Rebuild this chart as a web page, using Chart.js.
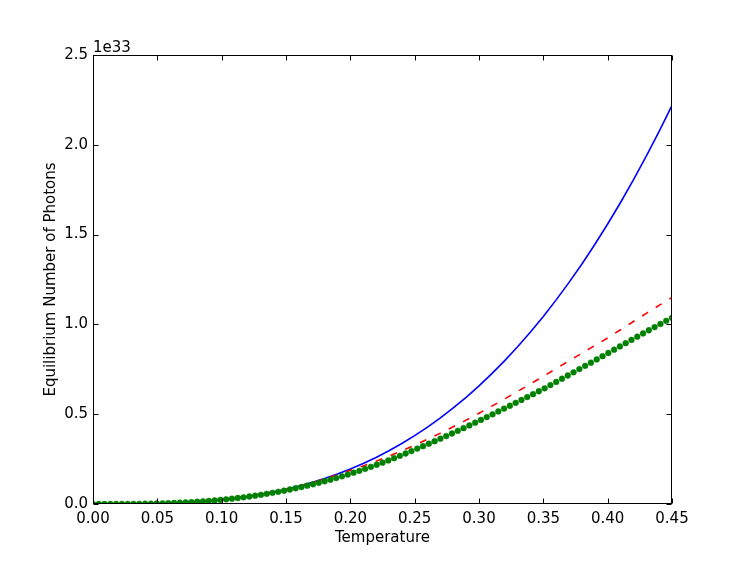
<!DOCTYPE html>
<html><head><meta charset="utf-8">
<script src="https://cdn.jsdelivr.net/npm/chart.js@4"></script>
<style>html,body{margin:0;padding:0;background:#fff;} canvas{display:block}</style>
</head><body>
<canvas id="c" width="747" height="561"></canvas>
<script>
// Temperature grid for the two line series
const lineT = [0,0.01,0.02,0.03,0.04,0.05,0.06,0.07,0.08,0.09,0.10,0.11,0.12,0.13,0.14,0.15,0.16,0.17,0.18,0.19,0.20,0.21,0.22,0.23,0.24,0.25,0.26,0.27,0.28,0.29,0.30,0.31,0.32,0.33,0.34,0.35,0.36,0.37,0.38,0.39,0.40,0.41,0.42,0.43,0.44,0.45];
// values in units of 1e33
const blueY = [0,0.0000244,0.000195,0.000658,0.00156,0.00305,0.00526,0.00836,0.01247,0.01776,0.02436,0.03242,0.04209,0.05352,0.06684,0.08222,0.09978,0.11968,0.14207,0.16709,0.19488,0.2256,0.2594,0.2964,0.3368,0.3806,0.4282,0.4795,0.5348,0.5941,0.6577,0.7257,0.7982,0.8754,0.9575,1.0444,1.1365,1.2339,1.3367,1.4450,1.5590,1.6789,1.8048,1.9368,2.0751,2.2198];
const redY = [0,0.0000244,0.000195,0.000658,0.00156,0.00305,0.00526,0.00836,0.01247,0.01776,0.02436,0.03242,0.04209,0.05352,0.06684,0.08222,0.0994,0.1187,0.1398,0.1624,0.1871,0.2121,0.2386,0.2668,0.2964,0.3273,0.3604,0.3947,0.4304,0.4672,0.5051,0.5447,0.5852,0.6266,0.6687,0.7112,0.7540,0.7969,0.8397,0.8823,0.9245,0.9704,1.0161,1.0614,1.1060,1.1499];
// Temperature grid for the dotted series
const dotT = [0,0.0045,0.009,0.0135,0.018,0.0225,0.027,0.0315,0.036,0.0405,0.045,0.0495,0.054,0.0585,0.063,0.0675,0.072,0.0765,0.081,0.0855,0.09,0.0945,0.099,0.1035,0.108,0.1125,0.117,0.1215,0.126,0.1305,0.135,0.1395,0.144,0.1485,0.153,0.1575,0.162,0.1665,0.171,0.1755,0.18,0.1845,0.189,0.1935,0.198,0.2025,0.207,0.2115,0.216,0.2205,0.225,0.2295,0.234,0.2385,0.243,0.2475,0.252,0.2565,0.261,0.2655,0.27,0.2745,0.279,0.2835,0.288,0.2925,0.297,0.3015,0.306,0.3105,0.315,0.3195,0.324,0.3285,0.333,0.3375,0.342,0.3465,0.351,0.3555,0.36,0.3645,0.369,0.3735,0.378,0.3825,0.387,0.3915,0.396,0.4005,0.405,0.4095,0.414,0.4185,0.423,0.4275,0.432,0.4365,0.441,0.4455,0.45];
const greenY = [0,0.000002,0.000018,0.00006,0.000142,0.000277,0.000478,0.00076,0.001135,0.001615,0.002215,0.00294,0.00381,0.004832,0.006022,0.007389,0.008947,0.010708,0.012682,0.014881,0.017316,0.019999,0.02294,0.026122,0.02957,0.033298,0.037315,0.041631,0.046254,0.051194,0.056459,0.062056,0.067996,0.074285,0.0808,0.08758,0.094703,0.102152,0.109954,0.118088,0.126583,0.135413,0.144612,0.154147,0.164057,0.174265,0.184781,0.195644,0.206853,0.218407,0.230305,0.242546,0.255129,0.268051,0.28131,0.294903,0.308515,0.321969,0.335662,0.349586,0.363734,0.378093,0.392656,0.407413,0.422351,0.437461,0.452731,0.468215,0.483771,0.499449,0.515237,0.53112,0.547085,0.563127,0.579201,0.595322,0.611463,0.62771,0.644153,0.661925,0.679653,0.697556,0.71539,0.733378,0.75126,0.769278,0.787148,0.805133,0.822929,0.840819,0.859124,0.877375,0.895555,0.913659,0.93165,0.9497,0.967438,0.98502,1.002418,1.019654,1.036649];
const xTicks = [0,0.05,0.10,0.15,0.20,0.25,0.30,0.35,0.40,0.45];
const yTicks = [0,0.5,1.0,1.5,2.0,2.5];
const xTitle = 'Temperature';
const yTitle = 'Equilibrium Number of Photons';
const offsetText = '1e33';

const FONT = 'DejaVu Sans';
const pts = (xs, ys) => xs.map((x, i) => ({x, y: ys[i]}));

const framePlugin = {
  id: 'frame',
  afterDatasetsDraw(chart) {
    const {ctx, chartArea: a, scales: {x, y}} = chart;
    ctx.save();
    ctx.strokeStyle = '#000';
    ctx.lineWidth = 1;
    const L = Math.round(a.left) + 0.5, R = Math.round(a.right) - 0.5;
    const T = Math.round(a.top) + 0.5, B = Math.round(a.bottom) - 0.5;
    ctx.beginPath();
    xTicks.forEach(v => {
      const px = Math.round(x.getPixelForValue(v)) + 0.5;
      ctx.moveTo(px, B); ctx.lineTo(px, B - 5);
      ctx.moveTo(px, T); ctx.lineTo(px, T + 5);
    });
    yTicks.forEach(v => {
      const py = Math.round(y.getPixelForValue(v)) + 0.5;
      ctx.moveTo(L, py); ctx.lineTo(L + 5, py);
      ctx.moveTo(R, py); ctx.lineTo(R - 5, py);
    });
    ctx.stroke();
    ctx.strokeRect(L, T, R - L, B - T);
    ctx.fillStyle = '#000';
    ctx.font = '15px "' + FONT + '"';
    ctx.textAlign = 'left';
    ctx.textBaseline = 'alphabetic';
    ctx.fillText(offsetText, a.left, a.top - 3);
    ctx.restore();
  }
};

new Chart(document.getElementById('c'), {
  type: 'scatter',
  data: {
    datasets: [
      {data: pts(lineT, blueY), showLine: true, borderColor: '#0000ff', borderWidth: 1.6, pointRadius: 0, fill: false, clip: 0, order: 3},
      {data: pts(lineT, redY), showLine: true, borderColor: '#ff0000', borderWidth: 1.6, borderDash: [7, 9], pointRadius: 0, fill: false, clip: 0, order: 2},
      {data: pts(dotT, greenY), showLine: false, pointRadius: 2.9, pointBackgroundColor: '#008000', pointBorderColor: '#008000', pointBorderWidth: 0.5, clip: 0, order: 1}
    ]
  },
  options: {
    responsive: false,
    animation: false,
    devicePixelRatio: 1,
    layout: {padding: {left: 0, top: 55, right: 75, bottom: 0}},
    plugins: {legend: {display: false}, tooltip: {enabled: false}},
    scales: {
      x: {
        type: 'linear', min: 0, max: 0.45,
        afterBuildTicks: s => { s.ticks = xTicks.map(v => ({value: v})); },
        afterFit: s => { s.height = 57; },
        grid: {display: false, drawTicks: false},
        border: {display: false},
        ticks: {color: '#000', font: {family: FONT, size: 15}, padding: 6, maxRotation: 0, autoSkip: false,
                callback: v => Number(v).toFixed(2)},
        title: {display: true, text: xTitle, color: '#000', font: {family: FONT, size: 15}, padding: {top: 0, bottom: 14}}
      },
      y: {
        type: 'linear', min: 0, max: 2.5,
        afterBuildTicks: s => { s.ticks = yTicks.map(v => ({value: v})); },
        afterFit: s => { s.width = 93; },
        grid: {display: false, drawTicks: false},
        border: {display: false},
        ticks: {color: '#000', font: {family: FONT, size: 15}, padding: 5, autoSkip: false,
                callback: v => Number(v).toFixed(1)},
        title: {display: true, text: yTitle, color: '#000', font: {family: FONT, size: 15}, padding: {top: 42, bottom: 0}}
      }
    }
  },
  plugins: [framePlugin]
});
</script></body></html>
